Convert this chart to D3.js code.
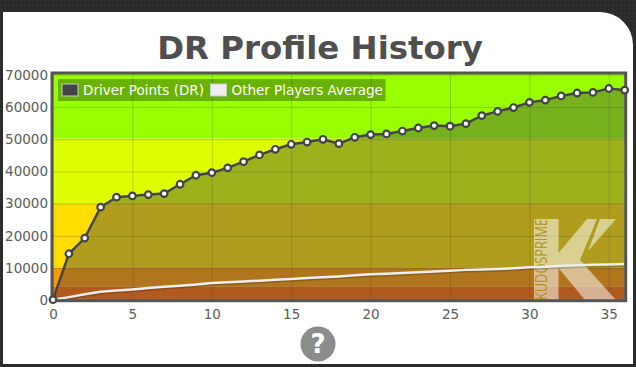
<!DOCTYPE html>
<html>
<head>
<meta charset="utf-8">
<script src="https://cdn.jsdelivr.net/npm/d3@7"></script>
<style>
  html, body { margin: 0; padding: 0; background: #2a2a2a; overflow: hidden; }
  svg { display: block; }
  text { font-family: "DejaVu Sans", sans-serif; }
</style>
</head>
<body>
<div id="container"></div>
<script>
/* DATA */
const title = "DR Profile History";
const races = d3.range(0, 37);
const driverPoints = [0, 14250, 19100, 28700, 31800, 32200, 32600, 32900, 35800, 38600,
  39400, 40900, 42800, 44900, 46650, 48200, 48900, 49750, 48400, 50370,
  51200, 51400, 52300, 53250, 54000, 53800, 54600, 57100, 58400, 59600,
  61200, 61900, 63200, 64100, 64300, 65500, 65000];
const othersAverage = [0, 800, 1700, 2480, 2850, 3200, 3600, 4000, 4350, 4700,
  5170, 5400, 5650, 5900, 6150, 6400, 6700, 6950, 7200, 7550,
  7900, 8050, 8300, 8500, 8750, 9000, 9250, 9400, 9550, 9750,
  10030, 10250, 10500, 10700, 10850, 10950, 11050];
const seriesNames = ["Driver Points (DR)", "Other Players Average"];
const seriesColors = ["#444444", "#eeeeee"];
const xTicks = [0, 5, 10, 15, 20, 25, 30, 35];
const yTicks = [0, 10000, 20000, 30000, 40000, 50000, 60000, 70000];
const bandEdges = [0, 250, 4000, 10000, 30000, 50000, 70000];
const bandColors = ["#e03a10", "#ff6a00", "#ff9900", "#ffdd00", "#ddff00", "#99ff00"];

/* SIZES */
const width = 636, height = 367;
const plot = {left: 53, right: 624.7, top: 74, bottom: 299.7};

const svg = d3.select("#container").append("svg")
  .attr("width", width)
  .attr("height", height);

// dark page texture
const defs = svg.append("defs");
const tex = defs.append("pattern").attr("id", "tex")
  .attr("width", 4).attr("height", 4).attr("patternUnits", "userSpaceOnUse");
tex.append("rect").attr("width", 4).attr("height", 4).attr("fill", "#2a2a2a");
tex.append("rect").attr("width", 2).attr("height", 2).attr("fill", "#303030");
svg.append("rect").attr("width", width).attr("height", height).attr("fill", "url(#tex)");

// white card, only the top right corner is round
svg.append("path")
  .attr("d", "M3,12 H600 A33,33 0 0 1 633,45 V364 H3 Z")
  .attr("fill", "#fff");

svg.append("text")
  .attr("x", 320).attr("y", 58.5)
  .attr("text-anchor", "middle")
  .style("font-size", "32.4px")
  .style("font-weight", "bold")
  .attr("fill", "#4f4f4f")
  .text(title);

/* SCALES */
const xScale = d3.scaleLinear().domain([0, 36]).range([plot.left, plot.right]);
const yScale = d3.scaleLinear().domain([0, 70000]).range([plot.bottom, plot.top]);

// background bands
svg.selectAll(".band")
  .data(bandColors)
  .join("rect")
  .attr("class", "band")
  .attr("x", plot.left)
  .attr("width", plot.right - plot.left)
  .attr("y", (d, i) => yScale(bandEdges[i + 1]))
  .attr("height", (d, i) => yScale(bandEdges[i]) - yScale(bandEdges[i + 1]))
  .attr("fill", d => d);

// grid and tick labels
const xAxis = d3.axisBottom(xScale).tickValues(xTicks).tickFormat(d3.format("d"))
  .tickSize(-(plot.bottom - plot.top)).tickPadding(10);
const yAxis = d3.axisLeft(yScale).tickValues(yTicks).tickFormat(d3.format("d"))
  .tickSize(-(plot.right - plot.left)).tickPadding(5);

const gx = svg.append("g").attr("transform", `translate(0,${plot.bottom})`).call(xAxis);
const gy = svg.append("g").attr("transform", `translate(${plot.left},0.7)`).call(yAxis);
[gx, gy].forEach(g => {
  g.select(".domain").remove();
  g.selectAll("line").attr("stroke", "#000").attr("stroke-opacity", 0.17);
  g.selectAll("text").attr("fill", "#5c5c5c").style("font-size", "13.5px");
});

/* SERIES */
const lineDriver = d3.line().x((d, i) => xScale(races[i])).y(d => yScale(d));
const areaDriver = d3.area().x((d, i) => xScale(races[i])).y0(yScale(0)).y1(d => yScale(d));

svg.append("path").datum(driverPoints)
  .attr("d", areaDriver)
  .attr("fill", seriesColors[0])
  .attr("fill-opacity", 0.42);

// logo, sits over the bands and under the lines
const logo = svg.append("g").attr("fill", "#fff").attr("fill-opacity", 0.52);
logo.append("path").attr("d",
  "M534,219 H558.5 V253 L587,219 H597 L580,260 L616,300 H585 L558.5,268 V300 H534 Z");
logo.append("path").attr("d", "M600,219 H616 L588,251 Z");
svg.append("text")
  .attr("transform", "translate(546.5,300) rotate(-90)")
  .attr("textLength", 81)
  .attr("lengthAdjust", "spacingAndGlyphs")
  .style("font-family", "'Open Sans', sans-serif")
  .style("font-size", "17px")
  .attr("fill", "#ad9320")
  .text("KUDOSPRIME");

// white average line with a soft shadow
svg.append("path").datum(othersAverage)
  .attr("d", lineDriver)
  .attr("transform", "translate(0,1.5)")
  .attr("fill", "none")
  .attr("stroke", "#000")
  .attr("stroke-opacity", 0.2)
  .attr("stroke-width", 2.5);
svg.append("path").datum(othersAverage)
  .attr("d", lineDriver)
  .attr("fill", "none")
  .attr("stroke", seriesColors[1])
  .attr("stroke-width", 2.5);

// plot frame
svg.append("rect")
  .attr("x", plot.left - 1)
  .attr("y", plot.top - 1)
  .attr("width", plot.right - plot.left + 2)
  .attr("height", plot.bottom - plot.top + 2)
  .attr("fill", "none")
  .attr("stroke", "#555")
  .attr("stroke-width", 3);

svg.append("path").datum(driverPoints)
  .attr("d", lineDriver)
  .attr("fill", "none")
  .attr("stroke", seriesColors[0])
  .attr("stroke-width", 2.5);

svg.selectAll(".dot")
  .data(driverPoints)
  .join("circle")
  .attr("class", "dot")
  .attr("cx", (d, i) => xScale(races[i]))
  .attr("cy", d => yScale(d))
  .attr("r", 3.3)
  .attr("fill", "#fff")
  .attr("stroke", seriesColors[0])
  .attr("stroke-width", 2.2);

/* LEGEND */
svg.append("rect")
  .attr("x", 58).attr("y", 79).attr("width", 327.5).attr("height", 22)
  .attr("fill", "#000").attr("fill-opacity", 0.3);

const legendX = [62, 210.5];
seriesNames.forEach((name, i) => {
  svg.append("rect")
    .attr("x", legendX[i]).attr("y", 84)
    .attr("width", 16).attr("height", 12)
    .attr("fill", seriesColors[i])
    .attr("stroke", "#ccc")
    .attr("stroke-width", 1);
  svg.append("text")
    .attr("x", legendX[i] + 21).attr("y", 95)
    .style("font-size", "13.5px")
    .attr("fill", "#fff")
    .text(name);
});

/* HELP BUTTON */
svg.append("circle")
  .attr("cx", 318).attr("cy", 344).attr("r", 17.5)
  .attr("fill", "#8c8c8c");
svg.append("text")
  .attr("x", 318).attr("y", 353)
  .attr("text-anchor", "middle")
  .style("font-size", "26px")
  .style("font-weight", "bold")
  .attr("fill", "#fff")
  .text("?");
</script>
</body>
</html>
